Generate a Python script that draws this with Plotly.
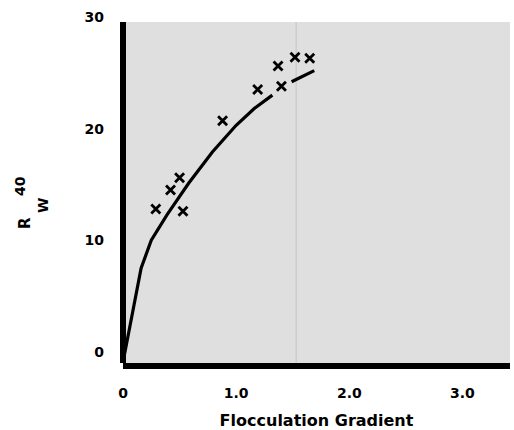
import plotly.graph_objects as go

# Measured data points (x markers)
pts_x = [0.29, 0.42, 0.50, 0.53, 0.88, 1.19, 1.37, 1.40, 1.52, 1.65]
pts_y = [12.8, 14.5, 15.6, 12.6, 20.7, 23.5, 25.6, 23.8, 26.4, 26.3]

# Fitted curve (gap near x=1.4 as in the original drawing)
curve_x = [0.01, 0.16, 0.25, 0.39, 0.58, 0.79, 1.00, 1.16, 1.32, None, 1.49, 1.69]
curve_y = [-0.4, 7.5, 10.0, 12.3, 15.1, 17.9, 20.3, 21.8, 23.0, None, 24.2, 25.2]

x_tick0, x_dtick = 0, 1.0
x_alias = {"0.0": "0"}
y_tickvals = [0, 10, 20, 30]
y_ticktext = ["0", "10", "20", "30"]

# y-axis title pieces: R, subscript W, superscript 40
ytitle_parts = ["R", "W", "40"]

FONT = "DejaVu Sans"
BG = "#dfdfdf"

fig = go.Figure()
fig.add_trace(go.Scatter(
    x=curve_x, y=curve_y, mode="lines",
    line=dict(color="black", width=3.2),
    connectgaps=False, showlegend=False, hoverinfo="skip", cliponaxis=False))
fig.add_trace(go.Scatter(
    x=pts_x, y=pts_y, mode="markers",
    marker=dict(symbol="x-thin", size=9, line=dict(color="black", width=2.8)),
    showlegend=False))

# faint vertical crease of the scanned page
fig.add_shape(type="line", xref="x", yref="paper", x0=1.53, x1=1.53, y0=0, y1=1,
              line=dict(color="#c4c4c4", width=1), layer="below")
# white strip above the shaded plotting area
fig.add_shape(type="rect", xref="paper", yref="y", x0=0, x1=1.02, y0=29.55, y1=30.2,
              fillcolor="white", line=dict(width=0), layer="below")
# left axis line
fig.add_shape(type="line", xref="paper", yref="y", x0=0, x1=0, y0=-1, y1=29.55,
              line=dict(color="black", width=6), layer="above")

# y-axis title, rotated, built from its three parts
for txt, xp, yp, sz in zip(ytitle_parts, [-0.2532, -0.2067, -0.2661], [0.4046, 0.4538, 0.5116], [15, 14, 14]):
    fig.add_annotation(xref="paper", yref="paper", x=xp, y=yp, text="<b>" + txt + "</b>",
                       xanchor="center", yanchor="middle",
                       textangle=-90, showarrow=False,
                       font=dict(size=sz, family=FONT, color="black"))

fig.update_layout(
    width=514, height=430,
    margin=dict(l=123, r=4, t=17, b=67),
    paper_bgcolor="white", plot_bgcolor=BG,
    font=dict(family=FONT, color="black"),
    xaxis=dict(
        range=[0, 3.42], tickmode="linear", tick0=x_tick0, dtick=x_dtick,
        tickformat=".1f", labelalias=x_alias, automargin=False,
        showgrid=False, zeroline=False, showline=True, linewidth=6, linecolor="black",
        ticks="", ticklabelstandoff=12,
        tickfont=dict(size=14, family=FONT, weight="bold"),
        title=dict(text="Flocculation Gradient", font=dict(size=16, family=FONT, weight="bold"),
                   standoff=24),
    ),
    yaxis=dict(
        range=[-1, 30], tickmode="array", tickvals=y_tickvals, ticktext=y_ticktext,
        showgrid=False, zeroline=False, showline=False, automargin=False,
        ticks="", ticklabelstandoff=18,
        tickfont=dict(size=14, family=FONT, weight="bold"),
    ),
)

fig.write_html("out.html")
